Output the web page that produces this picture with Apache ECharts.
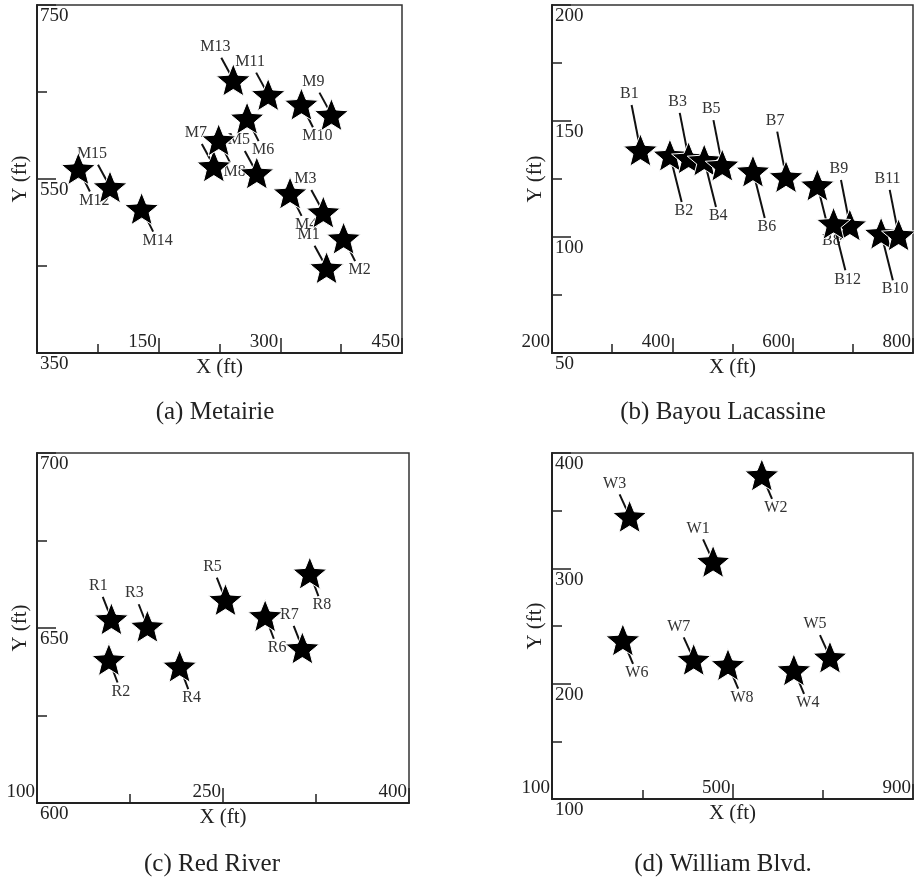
<!DOCTYPE html>
<html><head><meta charset="utf-8">
<script src="https://cdn.jsdelivr.net/npm/echarts@6/dist/echarts.min.js"></script>
<style>html,body{margin:0;padding:0;background:#fff}#c{width:914px;height:880px}</style>
</head><body><div id="c"></div>
<script>
// ---------- data ----------
const metairieNames = ['M1','M2','M3','M4','M5','M6','M7','M8','M9','M10','M11','M12','M13','M14','M15'];
const metairieX = [357, 378, 353, 312, 271, 259, 218, 224, 363, 326, 285, 51, 242, 129, 90];
const metairieY = [448, 482, 512, 534, 557, 620, 565, 595, 624, 636, 647, 562, 664, 516, 541];
const metairieXTicks = [150, 300, 450];
const metairieYTicks = [750, 550, 350];

const bayouNames = ['B1','B2','B3','B4','B5','B6','B7','B8','B9','B10','B11','B12'];
const bayouX = [347, 396, 427, 453, 483, 534, 589, 641, 695, 747, 776, 668];
const bayouY = [137.5, 135.3, 134.1, 133.2, 131.0, 128.4, 126.0, 122.4, 105.2, 101.6, 100.9, 105.9];
const bayouXTicks = [200, 400, 600, 800];
const bayouYTicks = [200, 150, 100, 50];

const redNames = ['R1','R2','R3','R4','R5','R6','R7','R8'];
const redX = [160, 158, 189, 215, 252, 284, 314, 320];
const redY = [652.6, 641.0, 650.5, 639.1, 658.1, 653.5, 644.3, 665.7];
const redXTicks = [100, 250, 400];
const redYTicks = [700, 650, 600];

const williamNames = ['W1','W2','W3','W4','W5','W6','W7','W8'];
const williamX = [457, 565, 272, 636, 716, 257, 414, 490];
const williamY = [306, 381, 345, 212, 223, 238, 221, 216.5];
const williamXTicks = [100, 500, 900];
const williamYTicks = [400, 300, 200, 100];

// ---------- layout / style ----------
const FONT = '"Liberation Serif","Times New Roman",serif';
const INK = '#222';
const panels = [
  {names: metairieNames, xs: metairieX, ys: metairieY, xMin: 0, xMax: 450, xStep: 75, xLbl: metairieXTicks,
   yMin: 350, yMax: 750, yStep: 100, yLbl: metairieYTicks, grid: {left: 37, top: 5, width: 365, height: 348},
   up: [-18, -33], down: [16, 32], title: '(a) Metairie', tx: 215, ty: 412},
  {names: bayouNames, xs: bayouX, ys: bayouY, xMin: 200, xMax: 800, xStep: 100, xLbl: bayouXTicks,
   yMin: 50, yMax: 200, yStep: 25, yLbl: bayouYTicks, grid: {left: 552, top: 5, width: 367, height: 348},
   up: [-11, -56], down: [14, 56], title: '(b) Bayou Lacassine', tx: 723, ty: 412},
  {names: redNames, xs: redX, ys: redY, xMin: 100, xMax: 400, xStep: 75, xLbl: redXTicks,
   yMin: 600, yMax: 700, yStep: 25, yLbl: redYTicks, grid: {left: 37, top: 453, width: 372, height: 350},
   up: [-13, -33], down: [12, 32], title: '(c) Red River', tx: 212, ty: 864},
  {names: williamNames, xs: williamX, ys: williamY, xMin: 100, xMax: 900, xStep: 200, xLbl: williamXTicks,
   yMin: 100, yMax: 400, yStep: 50, yLbl: williamYTicks, grid: {left: 552, top: 453, width: 366, height: 346},
   up: [-15, -33], down: [14, 33], title: '(d) William Blvd.', tx: 723, ty: 864}
];

// 5-point star symbol
const starPath = (function () {
  let d = '';
  for (let k = 0; k < 10; k++) {
    const a = (-90 + 36 * k) * Math.PI / 180;
    const r = k % 2 === 0 ? 50 : 22;
    d += (k === 0 ? 'M' : 'L') + (50 + r * Math.cos(a)).toFixed(2) + ',' + (50 + r * Math.sin(a)).toFixed(2);
  }
  return 'path://' + d + 'Z';
})();

const has = (arr, v) => arr.some(t => Math.abs(t - v) < 1e-6);

const grids = [], xAxes = [], yAxes = [], series = [], graphics = [];
panels.forEach((p, i) => {
  grids.push(Object.assign({show: true, borderColor: '#333', borderWidth: 1.5, backgroundColor: 'transparent'}, p.grid));
  const xLblStep = Math.abs(p.xLbl[1] - p.xLbl[0]);
  const yLblStep = Math.abs(p.yLbl[1] - p.yLbl[0]);
  xAxes.push({
    gridIndex: i, type: 'value', min: p.xMin, max: p.xMax, interval: p.xStep, position: 'bottom',
    axisLine: {show: true, onZero: false, lineStyle: {color: INK, width: 2}},
    axisTick: {inside: true, length: 9, lineStyle: {color: INK, width: 1.5}},
    axisLabel: {inside: true, align: 'right', verticalAlign: 'bottom', margin: 1, padding: [0, 2, 0, 0],
      fontFamily: FONT, fontSize: 19, color: INK, formatter: v => has(p.xLbl, v) ? String(v) : ''},
    splitLine: {show: false},
    name: 'X (ft)', nameLocation: 'middle', nameGap: 4,
    nameTextStyle: {fontFamily: FONT, fontSize: 21, color: INK, verticalAlign: 'top'}
  });
  xAxes.push({
    gridIndex: i, type: 'value', min: p.xMin, max: p.xMax, interval: xLblStep, position: 'bottom',
    axisLine: {show: false}, axisTick: {inside: true, length: 15, lineStyle: {color: INK, width: 1.5}},
    axisLabel: {show: false}, splitLine: {show: false}
  });
  yAxes.push({
    gridIndex: i, type: 'value', min: p.yMin, max: p.yMax, interval: p.yStep, position: 'left',
    axisLine: {show: true, onZero: false, lineStyle: {color: INK, width: 2}},
    axisTick: {inside: true, length: 10, lineStyle: {color: INK, width: 1.5}},
    axisLabel: {inside: true, align: 'left', verticalAlign: 'top', margin: 3, padding: [2, 0, 0, 0],
      fontFamily: FONT, fontSize: 19, color: INK, formatter: v => has(p.yLbl, v) ? String(v) : ''},
    splitLine: {show: false},
    name: 'Y (ft)', nameLocation: 'middle', nameGap: 6,
    nameTextStyle: {fontFamily: FONT, fontSize: 21, color: INK}
  });
  yAxes.push({
    gridIndex: i, type: 'value', min: p.yMin, max: p.yMax, interval: yLblStep, position: 'left',
    axisLine: {show: false}, axisTick: {inside: true, length: 19, lineStyle: {color: INK, width: 1.5}},
    axisLabel: {show: false}, splitLine: {show: false}
  });
  const data = p.xs.map((x, j) => [x, p.ys[j]]);
  series.push({
    type: 'custom', xAxisIndex: 2 * i, yAxisIndex: 2 * i, data: data, z: 2, silent: true, clip: false,
    renderItem: function (params, api) {
      const j = params.dataIndex;
      const pt = api.coord([api.value(0), api.value(1)]);
      const upSide = j % 2 === 0;
      const off = upSide ? p.up : p.down;
      const gap = upSide ? 11 : 9;
      const t = 1 - gap / Math.abs(off[1]);
      return {type: 'group', children: [
        {type: 'line', shape: {x1: pt[0], y1: pt[1], x2: pt[0] + off[0] * t, y2: pt[1] + off[1] * t},
         style: {stroke: '#111', lineWidth: 2}},
        {type: 'text', style: {text: p.names[j], x: pt[0] + off[0], y: pt[1] + off[1], align: 'center',
         verticalAlign: 'middle', fontSize: 16, fontFamily: FONT, fill: '#333'}}
      ]};
    }
  });
  series.push({
    type: 'scatter', xAxisIndex: 2 * i, yAxisIndex: 2 * i, data: data, z: 3, silent: true,
    symbol: starPath, symbolSize: 34, symbolKeepAspect: true,
    itemStyle: {color: '#000', borderColor: '#fff', borderWidth: 1, opacity: 1}
  });
  graphics.push({type: 'text', x: p.tx, y: p.ty, style: {text: p.title, align: 'center', verticalAlign: 'middle',
    fontSize: 25, fontFamily: FONT, fill: INK}});
});

const chart = echarts.init(document.getElementById('c'), null, {renderer: 'canvas'});
chart.setOption({
  animation: false,
  backgroundColor: '#fff',
  grid: grids, xAxis: xAxes, yAxis: yAxes, series: series, graphic: graphics
});
</script></body></html>
